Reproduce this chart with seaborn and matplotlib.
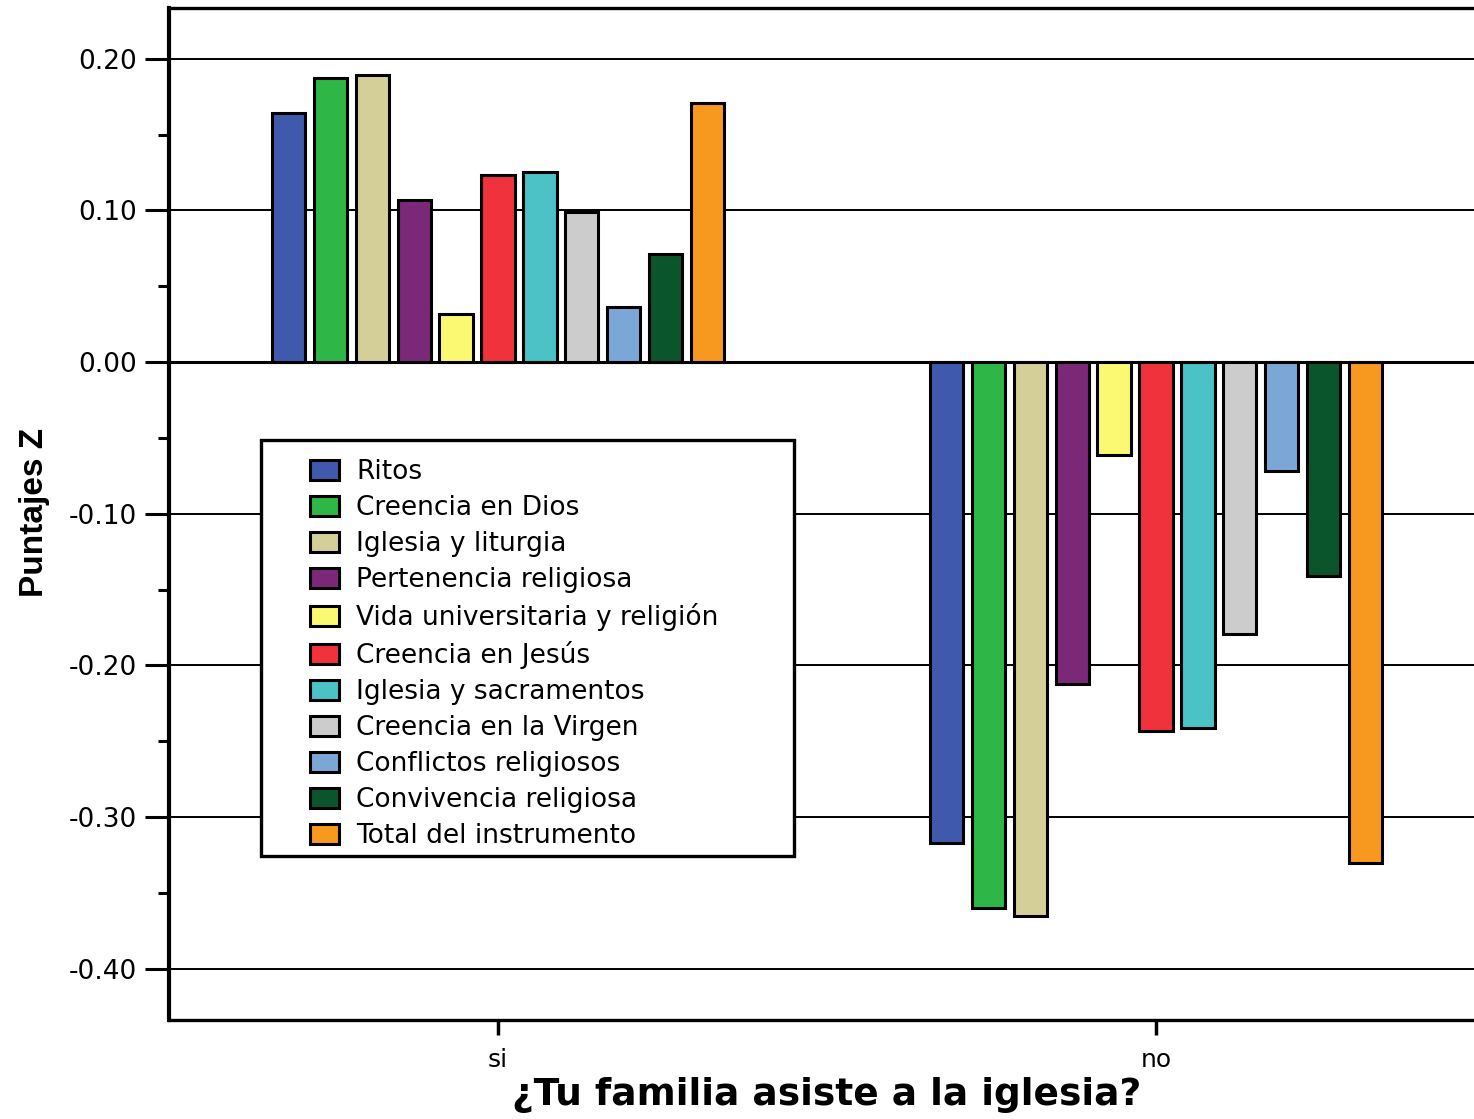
import matplotlib
matplotlib.use("Agg")
import matplotlib.pyplot as plt
import matplotlib.ticker as mticker
from matplotlib.patches import Patch, Rectangle
import seaborn as sns
import pandas as pd

# ---- data ----
groups = ["si", "no"]
dimensions = [
    "Ritos",
    "Creencia en Dios",
    "Iglesia y liturgia",
    "Pertenencia religiosa",
    "Vida universitaria y religión",
    "Creencia en Jesús",
    "Iglesia y sacramentos",
    "Creencia en la Virgen",
    "Conflictos religiosos",
    "Convivencia religiosa",
    "Total del instrumento",
]
values_si = [0.164, 0.187, 0.189, 0.107, 0.032, 0.123, 0.125, 0.099, 0.036, 0.071, 0.171]
values_no = [-0.317, -0.360, -0.365, -0.212, -0.061, -0.243, -0.241, -0.179, -0.072, -0.141, -0.330]
colors = ["#3F5AAC", "#2EB646", "#D4CF98", "#7B2878", "#FBF871", "#EF323B",
          "#4AC2C6", "#CCCCCC", "#7BA7D6", "#0A552C", "#F7981F"]
yticks = [-0.40, -0.30, -0.20, -0.10, 0.00, 0.10, 0.20]
ylabel = "Puntajes Z"
xlabel = "¿Tu familia asiste a la iglesia?"

rows = []
for g, vals in zip(groups, [values_si, values_no]):
    for d, v in zip(dimensions, vals):
        rows.append({"grupo": g, "dimension": d, "valor": v})
df = pd.DataFrame(rows)

sns.set_style("ticks")
plt.rcParams["font.family"] = ["DejaVu Sans"]
plt.rcParams["axes.unicode_minus"] = False
plt.rcParams["text.color"] = "black"
plt.rcParams["axes.labelcolor"] = "black"

W, H = 1474, 1119
fig = plt.figure(figsize=(W / 100, H / 100), dpi=100)
ax = fig.add_axes([169 / W, 1 - 1020 / H, 1316 / W, 1012 / H])

sns.barplot(data=df, x="grupo", y="valor", hue="dimension", order=groups,
            hue_order=dimensions, palette=colors, width=0.7, gap=0.2,
            edgecolor="black", linewidth=2.2, errorbar=None, legend=False,
            saturation=1, ax=ax)

ax.set_xlim(-0.5, 1.5)
ax.set_ylim(-0.4337, 0.2334)
ax.set_yticks(yticks)
ax.yaxis.set_major_formatter(mticker.FormatStrFormatter("%.2f"))
ax.yaxis.set_minor_locator(mticker.MultipleLocator(0.05))

ax.set_axisbelow(True)
ax.yaxis.grid(True, which="major", color="black", linewidth=1.4)
ax.axhline(0, color="black", linewidth=2.2, zorder=0.8)

for s in ["left", "top", "bottom", "right"]:
    ax.spines[s].set_color("black")
ax.spines["left"].set_linewidth(3.0)
ax.spines["top"].set_linewidth(2.4)
ax.spines["bottom"].set_linewidth(2.4)
ax.spines["right"].set_linewidth(2.4)

ax.tick_params(axis="y", which="major", length=17, width=2.2, pad=6,
               labelsize=19, color="black", labelcolor="black")
ax.tick_params(axis="y", which="minor", length=8, width=2.2, color="black")
ax.tick_params(axis="x", which="major", length=11, width=2.5, pad=9,
               labelsize=18, color="black", labelcolor="black")

ax.set_xlabel(xlabel, fontsize=27, fontweight="bold", labelpad=4)
ax.set_ylabel(ylabel, fontsize=24, fontweight="bold",
              family=["Liberation Sans", "DejaVu Sans"])
ax.yaxis.set_label_coords(-(169 - 50) / 1316, (1020 - 512) / 1012)

# legend frame
frame = Rectangle((261 / W, 1 - 856 / H), 533 / W, 416 / H, transform=fig.transFigure,
                  facecolor="white", edgecolor="black", linewidth=2.4, zorder=3)
ax.add_patch(frame)

handles = [Patch(facecolor=c, edgecolor="black", linewidth=2.2) for c in colors]
leg = ax.legend(handles, dimensions, loc="upper left",
                bbox_to_anchor=(310 / W, 1 - 459 / H), bbox_transform=fig.transFigure,
                frameon=False, borderpad=0, borderaxespad=0, fontsize=19,
                handlelength=1.1, handleheight=0.8, handletextpad=0.66,
                labelspacing=0.38)
leg.set_zorder(6)

fig.savefig("out.png", dpi=100)
